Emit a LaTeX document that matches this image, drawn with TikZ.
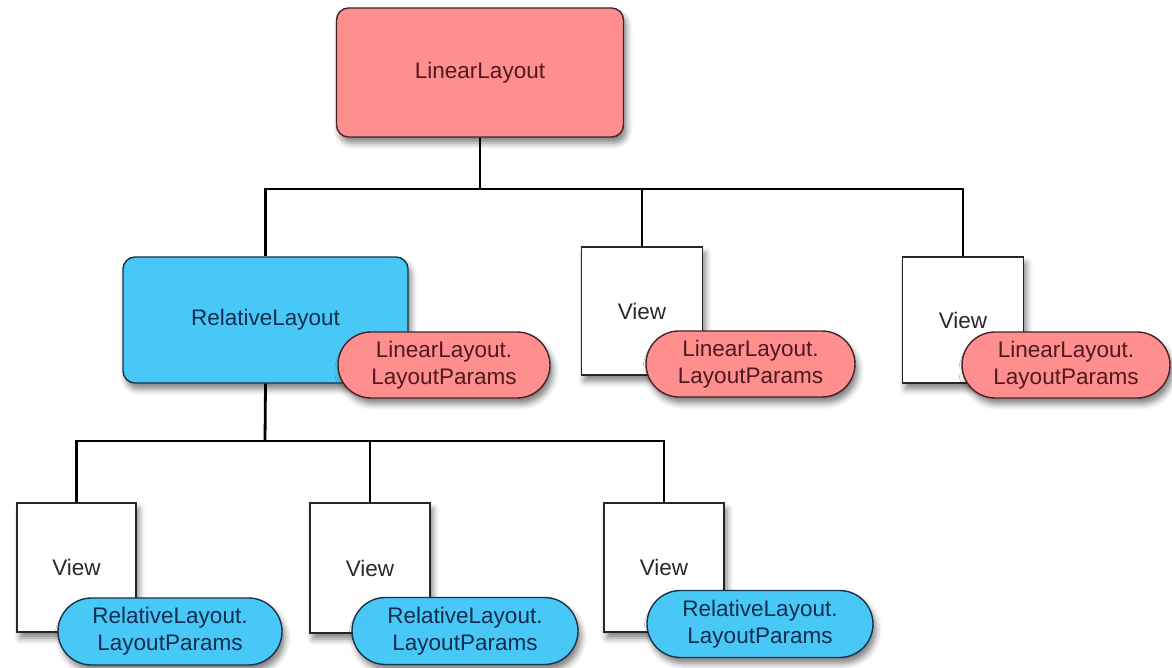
\documentclass[tikz,border=0pt]{standalone}
\usepackage{fontspec}
\setmainfont{Liberation Sans}
\usetikzlibrary{shapes.misc,shadows.blur}
\definecolor{pinkfill}{RGB}{255,142,142}
\definecolor{bluefill}{RGB}{72,200,246}
\definecolor{pinkline}{RGB}{70,35,38}
\definecolor{blueline}{RGB}{25,50,70}
\definecolor{pinktext}{RGB}{80,25,32}
\definecolor{bluetext}{RGB}{15,45,78}
\definecolor{viewtext}{RGB}{40,40,45}
\begin{document}
\begin{tikzpicture}[x=1pt,y=-1pt,
  txt/.style={font=\fontsize{22.5}{27}\selectfont, align=center, inner sep=0pt},
  shad/.style={blur shadow={shadow xshift=3pt, shadow yshift=-6pt, shadow blur radius=6pt, shadow opacity=50}},
  pinkbox/.style={txt, shad, rectangle, rounded corners=12pt, draw=pinkline, line width=1.4pt, fill=pinkfill, text=pinktext},
  bluebox/.style={txt, shad, rectangle, rounded corners=12pt, draw=blueline, line width=1.4pt, fill=bluefill, text=bluetext},
  viewbox/.style={txt, shad, rectangle, draw=black!85, line width=1.4pt, fill=white, text=viewtext, minimum width=121pt, minimum height=128pt},
  pinkpill/.style={txt, shad, rounded rectangle, draw=pinkline, line width=1.4pt, fill=pinkfill, text=pinktext, minimum width=209pt, minimum height=66pt},
  bluepill/.style={txt, shad, rounded rectangle, draw=blueline, line width=1.4pt, fill=bluefill, text=bluetext, minimum width=225pt, minimum height=67pt},
  conn/.style={draw=black, line width=2.8pt}
]
\useasboundingbox (0,0) rectangle (1172,668);

% coordinates of the buses
\coordinate (busA) at (480,189);
\coordinate (busB) at (265,441);

% nodes
\node[pinkbox, minimum width=287pt, minimum height=129pt] (LL) at (480,72.5) {LinearLayout};

\node[bluebox, minimum width=285pt, minimum height=126pt] (RL) at (265.5,320) {RelativeLayout};
\node[viewbox] (V2) at (642,311) {View};
\node[viewbox, minimum height=126pt] (V3) at (963,320) {View};

\node[viewbox, minimum width=119pt, minimum height=129pt] (B1) at (76.5,567.5) {View};
\node[viewbox, minimum width=120pt, minimum height=130pt] (B2) at (370,568) {View};
\node[viewbox, minimum width=120pt, minimum height=129pt] (B3) at (664,567.5) {View};

% connectors
\draw[conn] (LL.south) -- (busA);
\draw[conn] (RL.north) |- (V3.north |- busA) -- (V3.north);
\draw[conn] (V2.north) -- (V2.north |- busA);

\draw[conn] (RL.south) -- (busB);
\draw[conn] (B1.north) |- (B3.north |- busB) -- (B3.north);
\draw[conn] (B2.north) -- (B2.north |- busB);

% layout params pills
\node[pinkpill, minimum width=212pt] (P1) at (444,365) {LinearLayout.\\LayoutParams};
\node[pinkpill] (P2) at (750.5,364) {LinearLayout.\\LayoutParams};
\node[pinkpill, minimum width=208pt] (P3) at (1066,365) {LinearLayout.\\LayoutParams};

\node[bluepill, minimum width=224pt] (Q1) at (170,631.5) {RelativeLayout.\\LayoutParams};
\node[bluepill, minimum width=226pt] (Q2) at (465,631) {RelativeLayout.\\LayoutParams};
\node[bluepill, minimum width=226pt] (Q3) at (760,624) {RelativeLayout.\\LayoutParams};
\end{tikzpicture}
\end{document}
